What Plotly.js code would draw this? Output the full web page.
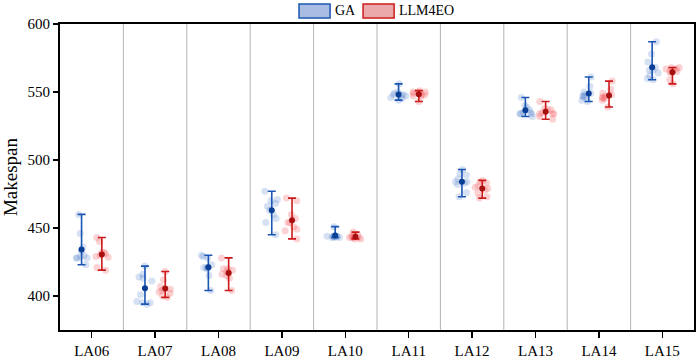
<!DOCTYPE html>
<html>
<head>
<meta charset="utf-8">
<script src="https://cdn.plot.ly/plotly-3.0.1.min.js"></script>
<style>html,body{margin:0;padding:0;background:#fff;}#chart{width:698px;height:361px;}</style>
</head>
<body>
<div id="chart"></div>
<script>
// ---- data ----
const categories = ["LA06","LA07","LA08","LA09","LA10","LA11","LA12","LA13","LA14","LA15"];
const seriesNames = ["GA","LLM4EO"];

// per-run makespan values (10 runs each)
const gaRuns = [
  [460,446,436,433,428,428,428,429,423,430],
  [422,416,414,413,411,401,395,395,396,394],
  [430,429,428,423,421,421,421,415,404,420],
  [477,470,468,466,460,457,454,445,463,471],
  [451,444,444,444,444,443,443,444,443,444],
  [556,549,546,544,548,548,550,547,545,548],
  [493,489,490,482,483,476,473,484,486,484],
  [546,540,539,535,534,534,534,537,535,532],
  [561,554,550,547,547,543,546,548,549,544],
  [587,578,572,568,566,564,562,559,566,560]
];
const llmRuns = [
  [443,440,432,431,430,428.5,429,421,419,432],
  [418,412,407,405,404,403,400,399,402,405],
  [428,420,416,413,418,404,417,415,420,419],
  [472,470,460,454,451,454,448,442,457,449],
  [447,444,443,443,442,444,443,445,443,442],
  [550,551,550,547,543,548,549,550,547,548],
  [484,485,483,478,473,472,481,479,476,480],
  [543,537,538,534,532,535,530,537,534,534],
  [558,552,549,546,545,544,539,548,547,546],
  [568,568,567,567,566,565,565,564,559,556]
];
const yTicks = [400,450,500,550,600];

// ---- styling ----
const styles = [
  {runs: gaRuns, offset: -0.16, line: "#1b56b4", mean: "#0b3f95", pts: "rgba(70,120,200,0.22)"},
  {runs: llmRuns, offset: 0.16, line: "#cc1a1a", mean: "#a80f0f", pts: "rgba(245,80,85,0.25)"}
];

const traces = [];
styles.forEach((s, k) => {
  const bx = [], by = [];
  const mx = [], my = [], eplus = [], eminus = [];
  s.runs.forEach((runs, i) => {
    runs.forEach(v => { bx.push(i + s.offset); by.push(v); });
    const mean = runs.reduce((a, b) => a + b, 0) / runs.length;
    const mx_ = Math.max(...runs), mn_ = Math.min(...runs);
    mx.push(i + s.offset); my.push(mean);
    eplus.push(mx_ - mean); eminus.push(mean - mn_);
  });
  traces.push({
    type: "box", name: seriesNames[k], x: bx, y: by,
    boxpoints: "all", jitter: 1, pointpos: 0, width: 0.26,
    fillcolor: "rgba(0,0,0,0)", line: {width: 0, color: "rgba(0,0,0,0)"},
    marker: {color: s.pts, size: 7}, showlegend: false, hoverinfo: "skip"
  });
  traces.push({
    type: "scatter", mode: "markers", name: seriesNames[k], x: mx, y: my,
    marker: {color: s.mean, size: 6},
    error_y: {type: "data", symmetric: false, array: eplus, arrayminus: eminus,
              color: s.line, thickness: 1.6, width: 4},
    showlegend: false, hoverinfo: "skip"
  });
});

const sepVals = categories.slice(1).map((c, i) => i + 0.5);
const shapes = sepVals.map(v => ({
  type: "line", xref: "x", yref: "paper", x0: v, x1: v, y0: 0, y1: 1,
  line: {color: "#b4b4b4", width: 1}, layer: "below"
}));
// legend boxes
const legendDefs = [
  {x0: 0.377, x1: 0.426, fill: "#a9bde3", border: "#1b56b4", tx: 0.431, text: seriesNames[0]},
  {x0: 0.478, x1: 0.527, fill: "#eaa9ab", border: "#cc1a1a", tx: 0.532, text: seriesNames[1]}
];
const annotations = [];
legendDefs.forEach(d => {
  shapes.push({type: "rect", xref: "paper", yref: "paper", x0: d.x0, x1: d.x1, y0: 1.02, y1: 1.065,
    fillcolor: d.fill, line: {color: d.border, width: 1.5}});
  annotations.push({xref: "paper", yref: "paper", x: d.tx, y: 1.043, xanchor: "left", yanchor: "middle",
    text: d.text, showarrow: false, font: {family: "Liberation Serif", size: 14, color: "#000"}});
});

const layout = {
  width: 698, height: 361,
  margin: {l: 60, r: 4, t: 24, b: 31},
  paper_bgcolor: "#fff", plot_bgcolor: "#fff",
  font: {family: "Liberation Serif", size: 15, color: "#000"},
  showlegend: false,
  xaxis: {
    range: [-0.5, 9.5], tickvals: categories.map((c, i) => i), ticktext: categories,
    showgrid: false, zeroline: false, showline: true, linecolor: "#000", linewidth: 2, mirror: true,
    ticks: "outside", ticklen: 6, tickwidth: 1.5, tickcolor: "#000",
    tickfont: {family: "Liberation Serif", size: 15}
  },
  yaxis: {
    range: [375, 600], tickvals: yTicks,
    showgrid: false, zeroline: false, showline: true, linecolor: "#000", linewidth: 2, mirror: true,
    ticks: "outside", ticklen: 5, tickwidth: 1.5, tickcolor: "#000",
    tickfont: {family: "Liberation Serif", size: 15},
    title: {text: "Makespan", font: {family: "Liberation Serif", size: 19}, standoff: 8}
  },
  shapes: shapes,
  annotations: annotations
};

Plotly.newPlot("chart", traces, layout, {displayModeBar: false, staticPlot: true});
</script>
</body>
</html>
